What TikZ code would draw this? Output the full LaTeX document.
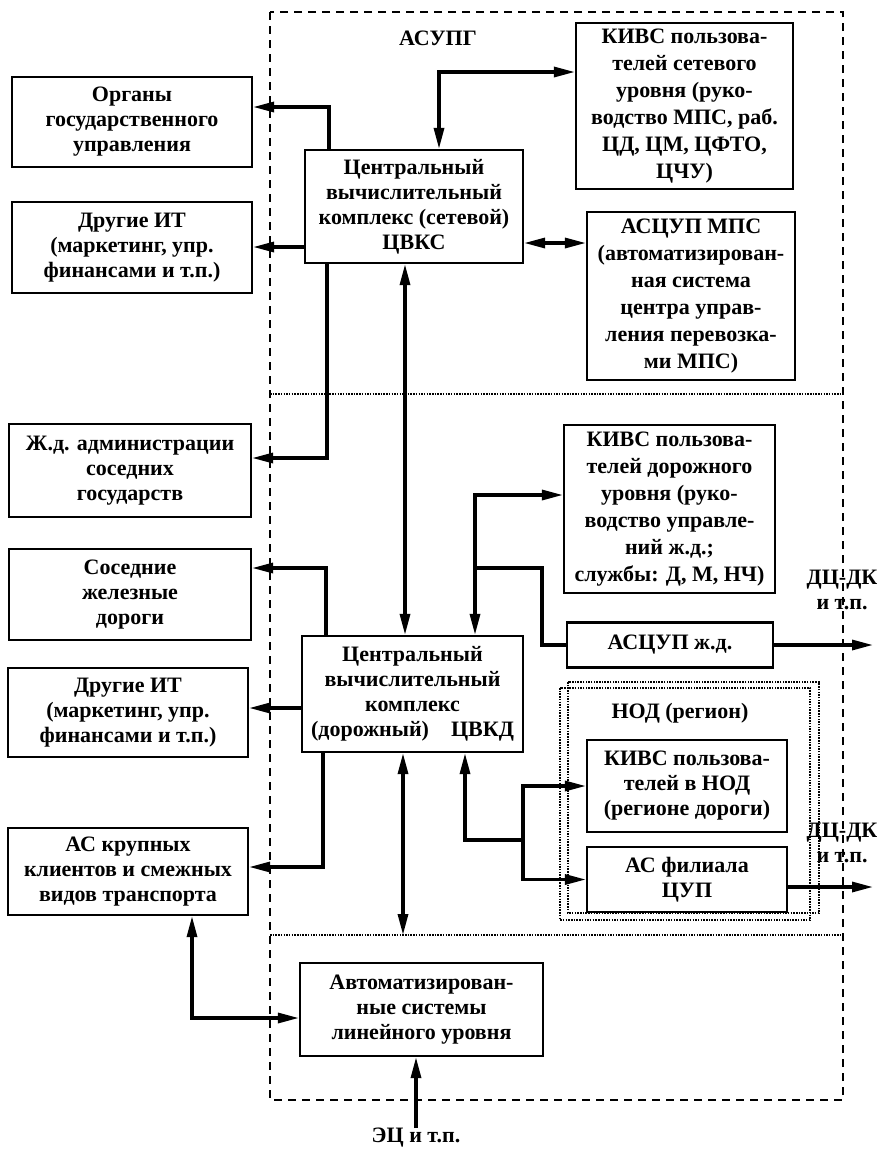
\documentclass[tikz,border=0pt]{standalone}
\usepackage{fontspec}
\setmainfont{Liberation Serif}
\usetikzlibrary{arrows.meta}
\newcommand{\txtfont}{\fontsize{22}{25}\selectfont\bfseries}
\newcommand{\tallfont}{\fontsize{22}{27}\selectfont\bfseries}
\begin{document}
\begin{tikzpicture}[x=1pt,y=-1pt,
  box/.style={draw, line width=2.2pt, align=center, inner sep=0pt, font=\txtfont},
  tallbox/.style={box, font=\tallfont},
  lbl/.style={align=center, inner sep=0pt, font=\txtfont},
  conn/.style={line width=3.2pt},
  >={Triangle[length=21pt,width=10pt]},
  outerdash/.style={line width=2pt, dash pattern=on 8pt off 6pt},
  sep/.style={line width=1.6pt, dash pattern=on 1.5pt off 1.2pt}]
\useasboundingbox (0,0) rectangle (878,1152);
\fill[white] (0,0) rectangle (878,1152);

% frames
\draw[outerdash] (270,12) rectangle (843,1100);
\draw[sep] (270,394) -- (843,394);
\draw[sep] (270,935) -- (843,935);
\draw[sep] (560,688) rectangle (810,920);
\draw[sep] (568,682) rectangle (819,913);

% left boxes
\node[box, minimum width=240, minimum height=90] (org) at (132,122) {Органы\\государственного\\управления};
\node[box, minimum width=240, minimum height=91] (dit1) at (132,247.5) {Другие ИТ\\(маркетинг, упр.\\финансами и т.п.)};
\node[box, minimum width=242, minimum height=93] (zhd) at (130,470.5) {Ж.д. администрации\\соседних\\государств};
\node[box, minimum width=242, minimum height=91] (sos) at (130,594.5) {Соседние\\железные\\дороги};
\node[box, minimum width=240, minimum height=89] (dit2) at (128,712.5) {Другие ИТ\\(маркетинг, упр.\\финансами и т.п.)};
\node[box, minimum width=240, minimum height=87] (ask) at (128,871.5) {АС крупных\\клиентов и смежных\\видов транспорта};

% central boxes
\node[box, minimum width=218, minimum height=113] (cvks) at (414,206.5) {Центральный\\вычислительный\\комплекс (сетевой)\\ЦВКС};
\node[box, minimum width=221, minimum height=116] (cvkd) at (412.5,694) {Центральный\\вычислительный\\комплекс\\(дорожный)\quad ЦВКД};
\node[box, minimum width=243, minimum height=93] (auto) at (421.5,1009.5) {Автоматизирован-\\ные системы\\линейного уровня};

% right boxes
\node[tallbox, minimum width=217, minimum height=166] (kivs1) at (684.5,106) {КИВС пользова-\\телей сетевого\\уровня (руко-\\водство МПС, раб.\\ЦД, ЦМ, ЦФТО,\\ЦЧУ)};
\node[tallbox, minimum width=208, minimum height=168] (asmps) at (691,296) {АСЦУП МПС\\(автоматизирован-\\ная система\\центра управ-\\ления перевозка-\\ми МПС)};
\node[tallbox, minimum width=211, minimum height=168] (kivs2) at (669.5,509) {КИВС пользова-\\телей дорожного\\уровня (руко-\\водство управле-\\ний ж.д.;\\службы: Д, М, НЧ)};
\node[box, minimum width=206, minimum height=45] (asjd) at (670,645) {АСЦУП ж.д.};
\node[box, minimum width=200, minimum height=92] (kivs3) at (687,786) {КИВС пользова-\\телей в НОД\\(регионе дороги)};
\node[box, minimum width=200, minimum height=65] (asf) at (687,879.5) {АС филиала\\ЦУП};

% labels
\node[lbl] (asupg) at (438,38) {АСУПГ};
\node[lbl] (nod) at (680,713) {НОД (регион)};
\node[lbl] (dc1) at (842,590) {ДЦ-ДК\\и т.п.};
\node[lbl] (dc2) at (842,843) {ДЦ-ДК\\и т.п.};
\node[lbl] (ec) at (416,1138) {ЭЦ и т.п.};

% bend coordinates
\coordinate (b1) at (439,72);
\coordinate (b2) at (329,107);
\coordinate (b3) at (0,247);
\coordinate (b4) at (0,243);
\coordinate (b5) at (327,458);
\coordinate (b6) at (405,0);
\coordinate (b7) at (326,568);
\coordinate (b8) at (475,495);
\coordinate (b9) at (475,568);
\coordinate (b9r) at (542,568);
\coordinate (out1) at (873,0);
\coordinate (b11) at (0,708);
\coordinate (b12) at (323,867);
\coordinate (b13) at (403,935);
\coordinate (b14) at (465,840);
\coordinate (b14r) at (523,840);
\coordinate (b15) at (0,887);
\coordinate (b16) at (192,1018);

% connectors
\draw[conn,<->] (cvks.north -| b1) |- (kivs1.west |- b1);
\draw[conn,->] (cvks.north -| b2) |- (org.east |- b2);
\draw[conn,->] (cvks.west |- b3) -- (dit1.east |- b3);
\draw[conn,<->] (cvks.east |- b4) -- (asmps.west |- b4);
\draw[conn,->] (cvks.south -| b5) |- (zhd.east |- b5);
\draw[conn,<->] (cvks.south -| b6) -- (cvkd.north -| b6);
\draw[conn,->] (cvkd.north -| b7) |- (sos.east |- b7);
\draw[conn,<->] (cvkd.north -| b8) |- (kivs2.west |- b8);
\draw[conn] (b9) -- (b9r) |- (asjd.west);
\draw[conn,->] (asjd.east) -- (asjd.east -| out1);
\draw[conn,->] (cvkd.west |- b11) -- (dit2.east |- b11);
\draw[conn,->] (cvkd.south -| b12) |- (ask.east |- b12);
\draw[conn,<->] (cvkd.south -| b13) -- (b13);
\draw[conn,<-] (cvkd.south -| b14) |- (b14r);
\draw[conn,->] (b14r) |- (kivs3.west);
\draw[conn,->] (b14r) |- (asf.west);
\draw[conn,->] (asf.east |- b15) -- (out1 |- b15);
\draw[conn,<->] (ask.south -| b16) |- (auto.west |- b16);
\draw[conn,->] (ec.north) -- (auto.south -| ec.north);
\end{tikzpicture}
\end{document}
